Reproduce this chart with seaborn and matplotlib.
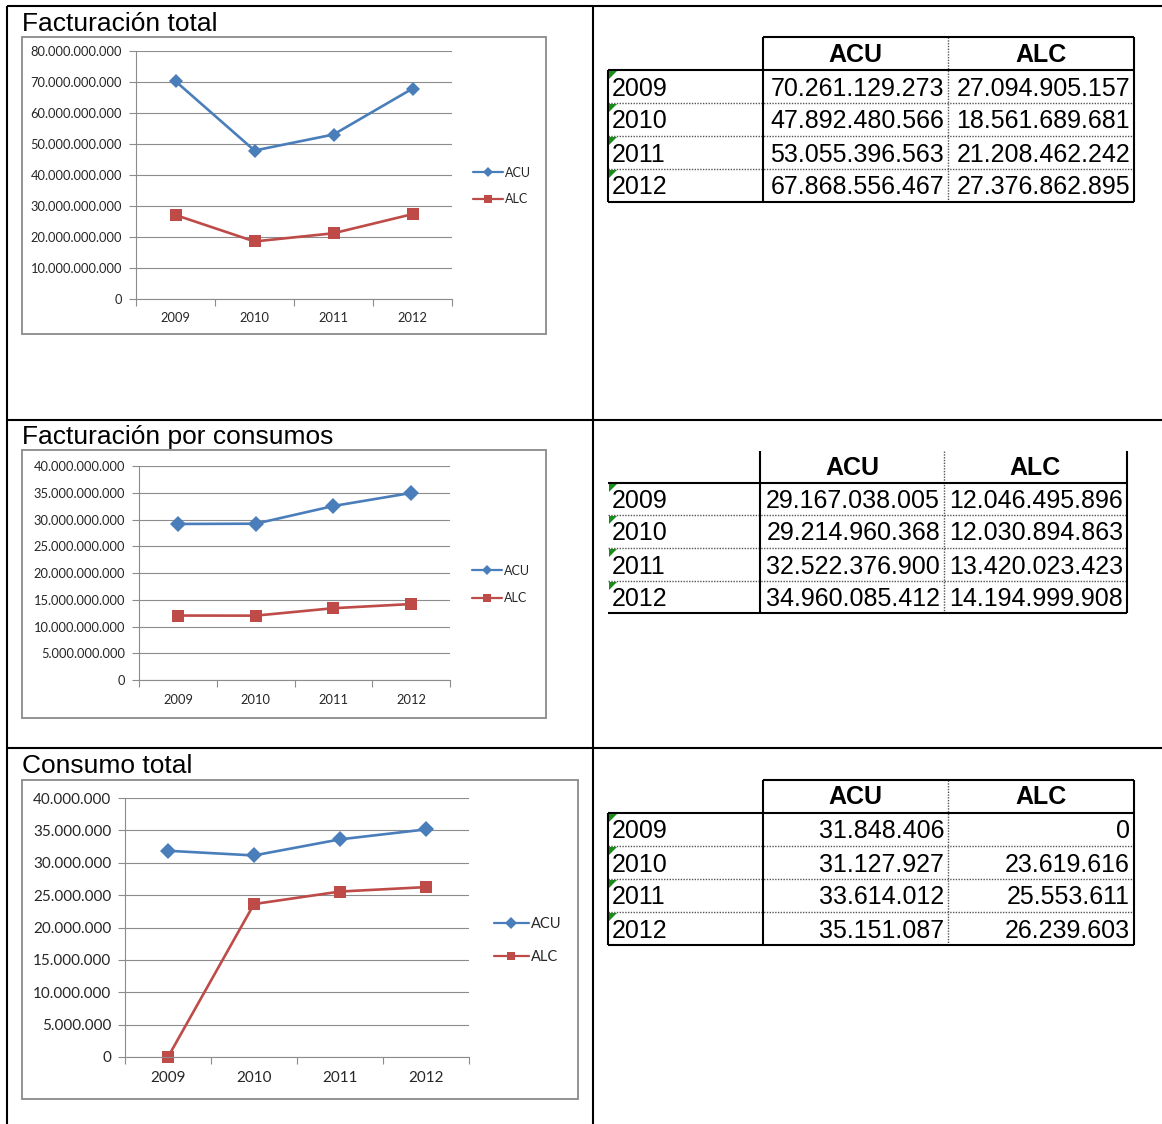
import numpy as np
import pandas as pd
import matplotlib
matplotlib.use("Agg")
import matplotlib.pyplot as plt
from matplotlib.patches import Rectangle, Polygon
from matplotlib.ticker import FuncFormatter, FixedLocator
import seaborn as sns

# ---- data ----
years = ["2009", "2010", "2011", "2012"]
series_names = ["ACU", "ALC"]

fact_total_acu = [70261129273, 47892480566, 53055396563, 67868556467]
fact_total_alc = [27094905157, 18561689681, 21208462242, 27376862895]

fact_cons_acu = [29167038005, 29214960368, 32522376900, 34960085412]
fact_cons_alc = [12046495896, 12030894863, 13420023423, 14194999908]

cons_total_acu = [31848406, 31127927, 33614012, 35151087]
cons_total_alc = [0, 23619616, 25553611, 26239603]

titles = ["Facturación total", "Facturación por consumos", "Consumo total"]

BLUE = "#4A7EBB"
RED = "#BE4B48"
GRID = "#8c8c8c"

W, H = 1162, 1124

sns.set_theme(style="white")
plt.rcParams["font.family"] = ["Liberation Sans", "DejaVu Sans"]

fig = plt.figure(figsize=(W / 100, H / 100), dpi=100)
bg = fig.add_axes([0, 0, 1, 1])
bg.set_xlim(0, W)
bg.set_ylim(H, 0)
bg.axis("off")


def px_axes(x0, y0, x1, y1):
    return fig.add_axes([x0 / W, 1 - y1 / H, (x1 - x0) / W, (y1 - y0) / H])


def fmt_num(v):
    return f"{int(round(v)):,}".replace(",", ".")


# ---- document frame ----
bg.hlines([6, 420, 748], 7, W, color="black", lw=1.5)
bg.vlines([7, 593], 6, H, color="black", lw=1.5)

# ---- charts ----
chart_layout = [
    dict(title_y=31, box=(22, 37, 546, 334), plot=(136, 51, 452, 299), step=10e9, nticks=8,
         leg=(473, 186), fs=9.3, lfs=9.0, ms=(7.5, 8.0), xpad=9, legsp=1.15, hl=2.4),
    dict(title_y=444, box=(22, 450, 546, 718), plot=(139, 466, 450, 680), step=5e9, nticks=8,
         leg=(472, 584.5), fs=9.3, lfs=9.0, ms=(8.0, 8.5), xpad=10, legsp=1.27, hl=2.4),
    dict(title_y=773, box=(22, 780, 578, 1099), plot=(125, 798, 469, 1057), step=5e6, nticks=8,
         leg=(494, 940.5), fs=11.0, lfs=10.5, ms=(8.5, 9.0), xpad=10, legsp=1.25, hl=2.4),
]
chart_data = [
    (fact_total_acu, fact_total_alc),
    (fact_cons_acu, fact_cons_alc),
    (cons_total_acu, cons_total_alc),
]

xpos = np.arange(len(years))

for title, lay, (acu, alc) in zip(titles, chart_layout, chart_data):
    bx0, by0, bx1, by1 = lay["box"]
    bg.add_patch(Rectangle((bx0, by0), bx1 - bx0, by1 - by0, fill=False,
                           edgecolor="#8a8a8a", lw=1.3))
    bg.text(22, lay["title_y"], title, fontsize=19, va="baseline", ha="left", color="black")

    ax = px_axes(*lay["plot"])
    ax.set_facecolor("none")
    sns.lineplot(x=xpos, y=acu, ax=ax, color=BLUE, marker="D", markersize=lay["ms"][0],
                 markeredgewidth=0, linewidth=1.9, label="ACU", clip_on=False)
    sns.lineplot(x=xpos, y=alc, ax=ax, color=RED, marker="s", markersize=lay["ms"][1],
                 markeredgewidth=0, linewidth=1.9, label="ALC", clip_on=False)

    ymax = lay["step"] * lay["nticks"]
    ax.set_ylim(0, ymax)
    ax.set_xlim(-0.5, len(years) - 0.5)
    ax.yaxis.set_major_locator(FixedLocator(np.arange(0, ymax + 1, lay["step"])))
    ax.yaxis.set_major_formatter(FuncFormatter(lambda v, p: fmt_num(v)))
    ax.grid(False)
    ax.yaxis.grid(True, color=GRID, lw=0.8)
    ax.set_axisbelow(True)

    ax.xaxis.set_major_locator(FixedLocator(np.arange(-0.5, len(years), 1.0)))
    ax.xaxis.set_major_formatter(FuncFormatter(lambda v, p: ""))
    ax.set_xticks(xpos, years, minor=True)
    ax.tick_params(axis="x", which="major", length=5, width=0.8, color=GRID, direction="out", bottom=True)
    ax.tick_params(axis="x", which="minor", length=0, pad=lay["xpad"], labelsize=lay["fs"],
                   labelcolor="#262626", bottom=True)
    ax.tick_params(axis="y", length=5, width=0.8, color=GRID, direction="out", left=True,
                   pad=5, labelsize=lay["fs"], labelcolor="#262626")
    for lbl in ax.get_yticklabels() + ax.get_xticklabels(minor=True):
        lbl.set_fontfamily(["Lato", "DejaVu Sans"])

    for s in ["top", "right"]:
        ax.spines[s].set_visible(False)
    for s in ["left", "bottom"]:
        ax.spines[s].set_color(GRID)
        ax.spines[s].set_linewidth(0.8)
    ax.set_xlabel("")
    ax.set_ylabel("")

    lx, ly = lay["leg"]
    leg = ax.legend(loc="center left", bbox_to_anchor=(lx / W, 1 - ly / H),
                    bbox_transform=fig.transFigure, frameon=False, borderpad=0,
                    borderaxespad=0, handlelength=lay["hl"], handletextpad=0.15,
                    labelspacing=lay["legsp"], markerscale=0.7,
                    prop={"family": ["Lato", "DejaVu Sans"], "size": lay["lfs"]})
    for t in leg.get_texts():
        t.set_color("#262626")
    for ln in leg.get_lines():
        ln.set_linewidth(1.6)

# ---- tables ----
table_layout = [
    dict(xs=[608, 763, 948, 1134], ys=[37, 70, 103, 136, 169, 202], frame=True),
    dict(xs=[608, 760, 944, 1127], ys=[451, 483, 515, 548, 581, 613], frame=False),
    dict(xs=[608, 763, 948, 1134], ys=[780, 813, 846, 879, 912, 945], frame=True),
]

for lay, (acu, alc) in zip(table_layout, chart_data):
    xs, ys = lay["xs"], lay["ys"]
    dot = dict(color="#555555", lw=1.0, linestyle=(0, (1, 1)))
    solid = dict(color="black", lw=1.5)
    # row separators (dotted)
    bg.hlines(ys[2:-1], xs[0], xs[-1], **dot)
    # ACU/ALC separator (dotted)
    bg.vlines(xs[2], ys[0], ys[-1], **dot)
    # solid lines
    bg.vlines([xs[1], xs[3]], ys[0], ys[-1], **solid)
    bg.hlines([ys[1], ys[-1]], xs[0], xs[-1], **solid)
    if lay["frame"]:
        bg.hlines(ys[0], xs[1], xs[3], **solid)
        bg.vlines(xs[0], ys[1], ys[-1], **solid)

    hy = (ys[0] + ys[1]) / 2 + 1
    for c, name in enumerate(series_names):
        bg.text((xs[c + 1] + xs[c + 2]) / 2, hy, name, fontsize=18, fontweight="bold",
                ha="center", va="center", color="black")
    for r, yr in enumerate(years):
        cy = (ys[r + 1] + ys[r + 2]) / 2 + 2
        bg.add_patch(Polygon([[xs[0] + 1, ys[r + 1] + 1], [xs[0] + 9, ys[r + 1] + 1],
                              [xs[0] + 1, ys[r + 1] + 9]], closed=True,
                             facecolor="#1a8c1a", edgecolor="none", zorder=5))
        bg.text(xs[0] + 4, cy, yr, fontsize=18, ha="left", va="center", color="black")
        bg.text(xs[2] - 4, cy, fmt_num(acu[r]), fontsize=18, ha="right", va="center", color="black")
        bg.text(xs[3] - 4, cy, fmt_num(alc[r]), fontsize=18, ha="right", va="center", color="black")

fig.savefig("out.png", dpi=100, facecolor="white")
